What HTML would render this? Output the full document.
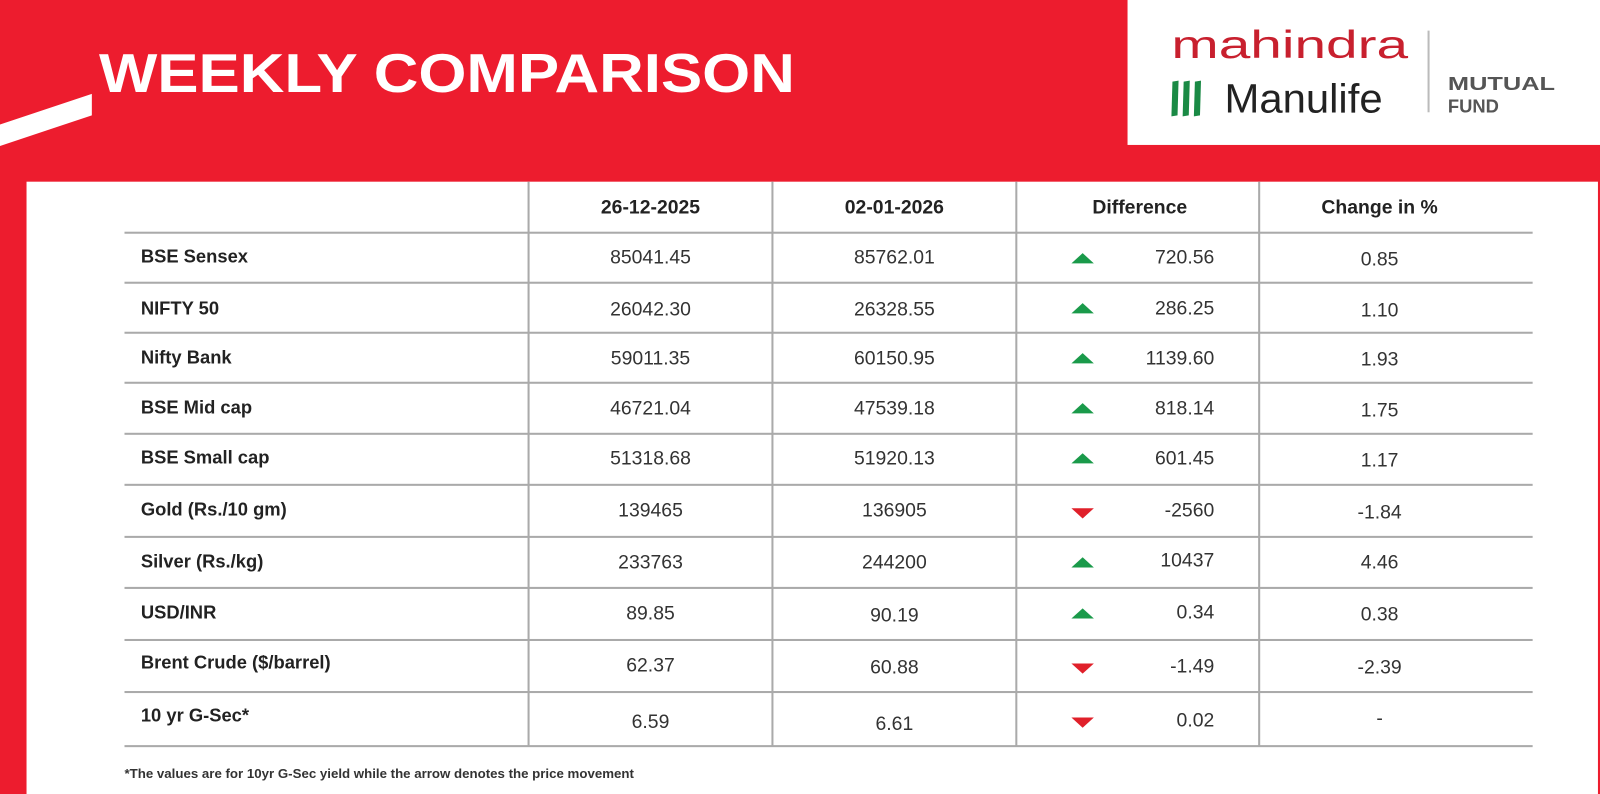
<!DOCTYPE html>
<html><head><meta charset="utf-8"><style>
*{margin:0;padding:0;box-sizing:border-box}
body{width:1600px;height:790px;overflow:hidden;background:#ed1c2e;font-family:"Liberation Sans",sans-serif;position:relative}
#w{position:absolute;left:0;top:0;width:1568px;height:775px;transform:scale(1.0204,1.0207);transform-origin:0 0}
.abs{position:absolute}
.panel{left:26px;top:178px;width:1540px;height:600px;background:#fff}
.logo{left:1105px;top:0;width:470px;height:142px;background:#fff}
.t{position:absolute;font-size:19px;color:#333;white-space:nowrap}
.h{font-weight:bold;color:#222;font-size:19px}
.lbl{font-weight:bold;color:#222;font-size:18px;left:138px}
.hl{position:absolute;left:122px;width:1380px;height:2px;background:#aaa}
.vl{position:absolute;top:178px;width:2px;height:553px;background:#aaa}
.c1{left:518px;width:239px;text-align:center}
.c2{left:757px;width:239px;text-align:center}
.c3{left:1000px;width:190px;text-align:right}
.c4{left:1234px;width:236px;text-align:center}
.up{position:absolute;left:1050px;width:0;height:0;border-left:11px solid transparent;border-right:11px solid transparent;border-bottom:10px solid #1a9a4a}
.dn{position:absolute;left:1050px;width:0;height:0;border-left:11px solid transparent;border-right:11px solid transparent;border-top:10px solid #e0202a}
</style></head><body><div id="w">
<svg class="abs" style="left:0;top:0" width="1100" height="178">
<polygon points="0,122 90,92 90,113 0,143" fill="#fff"/>
<text x="97" y="90" font-family="Liberation Sans" font-weight="bold" font-size="54" fill="#fff" textLength="682" lengthAdjust="spacingAndGlyphs">WEEKLY COMPARISON</text>
</svg>
<div class="abs logo">
<svg width="470" height="142">
<text x="43" y="57" font-family="Liberation Sans" font-size="38" fill="#c8202e" textLength="232" lengthAdjust="spacingAndGlyphs">mahindra</text>
<g fill="#1a8a45"><polygon points="44,80 50,79 49,113 43,114"/><polygon points="55,80 61,79 60,113 54,114"/><polygon points="66,80 72,79 71,113 65,114"/></g>
<text x="95" y="110" font-family="Liberation Sans" font-size="40" fill="#222" textLength="155" lengthAdjust="spacingAndGlyphs">Manulife</text>
<rect x="294" y="30" width="2" height="80" fill="#bbb"/>
<text x="314" y="88" font-family="Liberation Sans" font-weight="bold" font-size="18" fill="#555" textLength="105" lengthAdjust="spacingAndGlyphs">MUTUAL</text>
<text x="314" y="110" font-family="Liberation Sans" font-weight="bold" font-size="18" fill="#555">FUND</text>
</svg></div>
<div class="abs panel"></div>
<div class="vl" style="left:517px"></div><div class="vl" style="left:756px"></div><div class="vl" style="left:995px"></div><div class="vl" style="left:1233px"></div>
<div class="hl" style="top:227px"></div><div class="hl" style="top:276px"></div><div class="hl" style="top:325px"></div><div class="hl" style="top:374px"></div><div class="hl" style="top:424px"></div><div class="hl" style="top:474px"></div><div class="hl" style="top:525px"></div><div class="hl" style="top:575px"></div><div class="hl" style="top:626px"></div><div class="hl" style="top:677px"></div><div class="hl" style="top:730px"></div>
<div class="t h c1" style="top:193px">26-12-2025</div>
<div class="t h c2" style="top:193px">02-01-2026</div>
<div class="t h" style="left:1000px;width:234px;text-align:center;top:193px">Difference</div>
<div class="t h c4" style="top:193px">Change in %</div>

<div class="t lbl" style="top:241px">BSE Sensex</div><div class="t c1" style="top:242px">85041.45</div><div class="t c2" style="top:242px">85762.01</div><div class="up" style="top:248px"></div><div class="t c3" style="top:242px">720.56</div><div class="t c4" style="top:244px">0.85</div>
<div class="t lbl" style="top:292px">NIFTY 50</div><div class="t c1" style="top:293px">26042.30</div><div class="t c2" style="top:293px">26328.55</div><div class="up" style="top:297px"></div><div class="t c3" style="top:292px">286.25</div><div class="t c4" style="top:294px">1.10</div>
<div class="t lbl" style="top:340px">Nifty Bank</div><div class="t c1" style="top:341px">59011.35</div><div class="t c2" style="top:341px">60150.95</div><div class="up" style="top:346px"></div><div class="t c3" style="top:341px">1139.60</div><div class="t c4" style="top:342px">1.93</div>
<div class="t lbl" style="top:389px">BSE Mid cap</div><div class="t c1" style="top:390px">46721.04</div><div class="t c2" style="top:390px">47539.18</div><div class="up" style="top:395px"></div><div class="t c3" style="top:390px">818.14</div><div class="t c4" style="top:392px">1.75</div>
<div class="t lbl" style="top:438px">BSE Small cap</div><div class="t c1" style="top:439px">51318.68</div><div class="t c2" style="top:439px">51920.13</div><div class="up" style="top:444px"></div><div class="t c3" style="top:439px">601.45</div><div class="t c4" style="top:441px">1.17</div>
<div class="t lbl" style="top:489px">Gold (Rs./10 gm)</div><div class="t c1" style="top:490px">139465</div><div class="t c2" style="top:490px">136905</div><div class="dn" style="top:498px"></div><div class="t c3" style="top:490px">-2560</div><div class="t c4" style="top:492px">-1.84</div>
<div class="t lbl" style="top:540px">Silver (Rs./kg)</div><div class="t c1" style="top:541px">233763</div><div class="t c2" style="top:541px">244200</div><div class="up" style="top:546px"></div><div class="t c3" style="top:539px">10437</div><div class="t c4" style="top:541px">4.46</div>
<div class="t lbl" style="top:590px">USD/INR</div><div class="t c1" style="top:591px">89.85</div><div class="t c2" style="top:593px">90.19</div><div class="up" style="top:596px"></div><div class="t c3" style="top:590px">0.34</div><div class="t c4" style="top:592px">0.38</div>
<div class="t lbl" style="top:639px">Brent Crude ($/barrel)</div><div class="t c1" style="top:642px">62.37</div><div class="t c2" style="top:644px">60.88</div><div class="dn" style="top:650px"></div><div class="t c3" style="top:643px">-1.49</div><div class="t c4" style="top:644px">-2.39</div>
<div class="t lbl" style="top:691px">10 yr G-Sec*</div><div class="t c1" style="top:697px">6.59</div><div class="t c2" style="top:699px">6.61</div><div class="dn" style="top:703px"></div><div class="t c3" style="top:696px">0.02</div><div class="t c4" style="top:694px">-</div>
<div class="t" style="left:122px;top:750px;font-size:13px;font-weight:bold;color:#333">*The values are for 10yr G-Sec yield while the arrow denotes the price movement</div>
</div></body></html>
